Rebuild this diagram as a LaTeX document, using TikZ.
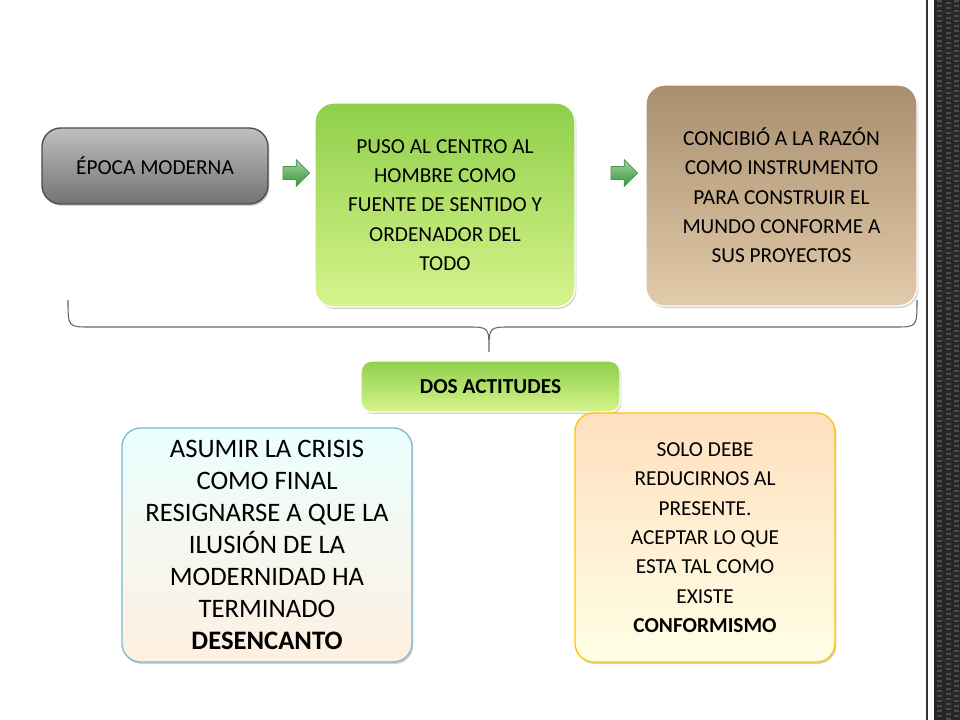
\documentclass[tikz,border=0pt]{standalone}
\usepackage{fontspec}
\setmainfont{Carlito}
\usetikzlibrary{shapes.arrows,shadows}
\begin{document}
\begin{tikzpicture}[x=0.75pt,y=-0.75pt,
  box/.style={rounded corners=14pt,align=center,inner sep=2pt,draw=white,line width=1pt,drop shadow={shadow xshift=1pt,shadow yshift=-1.5pt,opacity=0.35}},
  garrow/.style={single arrow,draw=green!40!black!70,top color=green!45!black!35!white,bottom color=green!50!black!80,minimum width=20pt,single arrow head extend=3.5pt,single arrow head indent=0pt,minimum height=20pt,inner sep=3pt,line width=0.5pt},
  fs/.style={font=\fontsize{16}{22}\selectfont},
  fb/.style={font=\fontsize{20}{24}\selectfont}]
\useasboundingbox (0,0) rectangle (960,720);
\fill[white] (0,0) rectangle (960,720);
\fill[black!85] (934,0) rectangle (960,720);
\foreach \i in {0,...,144}{\fill[black!70] (937,{\i*5}) rectangle (942,{\i*5+2}); \fill[black!70] (946,{\i*5+2.5}) rectangle (951,{\i*5+4.5});\fill[black!70] (954,{\i*5}) rectangle (959,{\i*5+2});}
\draw[black!80,line width=0.8pt] (927,0) -- (927,720);
\definecolor{gtop}{HTML}{8FCF4A}\definecolor{gbot}{HTML}{D6F48C}
\definecolor{btop}{HTML}{A88E6E}\definecolor{bbot}{HTML}{E2CBAA}
\node[box,fs,top color=black!25,bottom color=black!55,minimum width=226*0.75pt,minimum height=76*0.75pt,draw=black!70] (a) at (155,166) {ÉPOCA MODERNA};
\node[box,fs,top color=gtop,bottom color=gbot,minimum width=260*0.75pt,minimum height=204*0.75pt] (b) at (445,205) {PUSO AL CENTRO AL\\HOMBRE COMO\\FUENTE DE SENTIDO Y\\ORDENADOR DEL\\TODO};
\node[box,fs,top color=btop,bottom color=bbot,minimum width=271*0.75pt,minimum height=221*0.75pt] (c) at (781.5,195.5) {CONCIBIÓ A LA RAZÓN\\COMO INSTRUMENTO\\PARA CONSTRUIR EL\\MUNDO CONFORME A\\SUS PROYECTOS};
\node[garrow] (r1) at (293,173) {};
\node[garrow] (r2) at (621,173) {};
\coordinate (bl) at (68,300); \coordinate (br) at (917,300); \coordinate (bt) at (489,352);
\draw[black!60,line width=0.8pt] (bl) .. controls (68,327) .. (90,327) -- (467,327) .. controls (489,327) .. (bt) .. controls (489,327) .. (511,327) -- (895,327) .. controls (917,327) .. (br);
\node[box,fs,top color=gtop,bottom color=gbot,minimum width=259*0.75pt,minimum height=51*0.75pt,rounded corners=8pt,font=\fontsize{16}{15}\selectfont\bfseries] (d) at (490.5,386.5) {DOS ACTITUDES};
\node[box,fb,top color=cyan!8,bottom color=orange!12,draw=cyan!40!teal!60,minimum width=290*0.75pt,minimum height=234*0.75pt] (e) at (267,545) {ASUMIR LA CRISIS\\COMO FINAL\\RESIGNARSE A QUE LA\\ILUSIÓN DE LA\\MODERNIDAD HA\\TERMINADO\\ \textbf{DESENCANTO}};
\node[box,fs,top color=orange!25!white,bottom color=yellow!10!white,draw=yellow!60!orange,minimum width=260*0.75pt,minimum height=249*0.75pt] (f) at (705,537.5) {SOLO DEBE\\REDUCIRNOS AL\\PRESENTE.\\ACEPTAR LO QUE\\ESTA TAL COMO\\EXISTE\\ \textbf{CONFORMISMO}};
\end{tikzpicture}
\end{document}
